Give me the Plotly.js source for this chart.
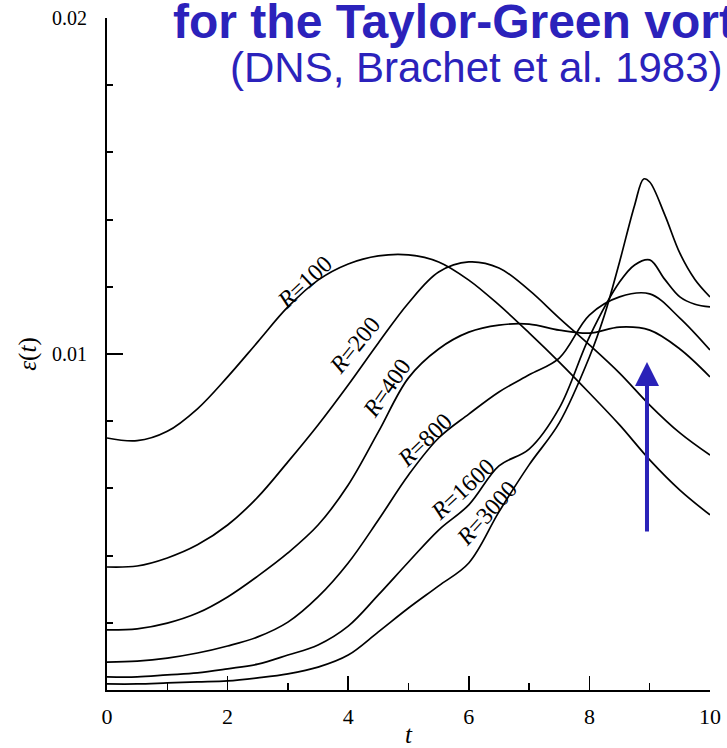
<!DOCTYPE html>
<html>
<head>
<meta charset="utf-8">
<script src="https://cdn.plot.ly/plotly-3.0.1.min.js"></script>
<style>html,body{margin:0;padding:0;background:#fff;}#chart{width:727px;height:748px;}</style>
</head>
<body>
<div id="chart"></div>
<script>
// time grid (shared by the four lower-Reynolds curves)
const tCoarse = [0,0.5,1,1.5,2,2.5,3,3.5,4,4.5,5,5.5,6,6.5,7,7.5,8,8.5,9,9.5,10];
const epsR100 = [0.00750,0.00742,0.00770,0.00837,0.00932,0.01036,0.01140,0.01220,0.01268,0.01292,0.01295,0.01274,0.01220,0.01146,0.01063,0.00976,0.00884,0.00789,0.00685,0.00595,0.00521];
const epsR200 = [0.00366,0.00369,0.00393,0.00432,0.00491,0.00574,0.00679,0.00789,0.00908,0.01033,0.01152,0.01244,0.01274,0.01256,0.01190,0.01107,0.01027,0.00943,0.00848,0.00765,0.00699];
const epsR400 = [0.00179,0.00182,0.00199,0.00229,0.00277,0.00339,0.00408,0.00491,0.00610,0.00768,0.00929,0.01015,0.01065,0.01086,0.01089,0.01071,0.01062,0.01080,0.01071,0.01015,0.00932];
const epsR800 = [0.00083,0.00086,0.00095,0.00110,0.00131,0.00158,0.00202,0.00277,0.00378,0.00506,0.00640,0.00750,0.00821,0.00887,0.00938,0.00988,0.01116,0.01170,0.01179,0.01107,0.01012];
const tR1600 = [0,0.5,1,1.5,2,2.5,3,3.5,4,4.5,5,5.5,6,6.5,7,7.5,8,8.5,8.75,9,9.25,9.5,9.75,10];
const epsR1600 = [0.00039,0.00039,0.00045,0.00051,0.00063,0.00077,0.00104,0.00134,0.00190,0.00283,0.00381,0.00476,0.00551,0.00667,0.00717,0.00839,0.01051,0.01214,0.01265,0.01280,0.01222,0.01170,0.01148,0.01140];
const tR3000 = [0,0.5,1,1.5,2,2.5,3,3.5,4,4.5,5,5.5,6,6.5,7,7.5,8,8.25,8.5,8.75,8.9,9,9.25,9.5,9.75,10];
const epsR3000 = [0.00018,0.00018,0.00021,0.00024,0.00027,0.00036,0.00048,0.00068,0.00104,0.00173,0.00244,0.00310,0.00378,0.00530,0.00670,0.00795,0.00991,0.01116,0.01274,0.01443,0.01521,0.01512,0.01414,0.01300,0.01222,0.01170];

const seriesNames = ['R=100','R=200','R=400','R=800','R=1600','R=3000'];
const labelTexts = ['<i>R</i>=100','<i>R</i>=200','<i>R</i>=400','<i>R</i>=800','<i>R</i>=1600','<i>R</i>=3000'];
const xTickVals = [0,2,4,6,8,10];
const yTickVals = [0,0.01,0.02];
const yTickText = ['','0.01','0.02'];

const seriesX = [tCoarse,tCoarse,tCoarse,tCoarse,tR1600,tR3000];
const seriesY = [epsR100,epsR200,epsR400,epsR800,epsR1600,epsR3000];

const traces = seriesNames.map((n,i)=>({
  x: seriesX[i], y: seriesY[i], name: n, type:'scatter', mode:'lines',
  line:{color:'#000', width:1.7, shape:'spline', smoothing:1},
  hoverinfo:'skip'
}));

// label placement (t, eps, angle)
const labelPlace = [
  [3.28,0.01214,-43],
  [4.11,0.01027,-51],
  [4.64,0.00899,-55],
  [5.27,0.00744,-44],
  [5.90,0.00598,-43],
  [6.30,0.00527,-48]
];
const serif = 'Liberation Serif, Times New Roman, serif';
const blue = '#2b22bb';

const annotations = labelTexts.map((s,i)=>({
  x: labelPlace[i][0], y: labelPlace[i][1], xref:'x', yref:'y',
  text: s, showarrow:false, textangle: labelPlace[i][2],
  font:{family:serif, size:24, color:'#000'}
}));

annotations.push({
  xref:'paper', yref:'paper', x:0.106, y:0.995, xanchor:'left', yanchor:'middle',
  text:'<b>for the Taylor-Green vortex</b>', showarrow:false,
  font:{family:'Liberation Sans, Arial, sans-serif', size:48, color:blue}
});
annotations.push({
  xref:'paper', yref:'paper', x:0.201, y:0.926, xanchor:'left', yanchor:'middle',
  text:'(DNS, Brachet et al. 1983)', showarrow:false,
  font:{family:'Liberation Sans, Arial, sans-serif', size:42, color:blue}
});
// arrow
annotations.push({
  x: 8.955, y: 0.00976, xref:'x', yref:'y', ax:0, ay:171, axref:'pixel', ayref:'pixel',
  text:'', showarrow:true, arrowhead:2, arrowsize:1.2, arrowwidth:4, arrowcolor:'#2a22b8', standoff:0
});

const layout = {
  width:727, height:748,
  margin:{l:107, r:17, t:18, b:58, pad:0},
  paper_bgcolor:'#fff', plot_bgcolor:'#fff',
  showlegend:false,
  xaxis:{
    range:[0,10], tickvals:xTickVals, showgrid:false, zeroline:false,
    showline:true, linecolor:'#000', linewidth:2,
    ticks:'inside', ticklen:14, tickwidth:1.5, tickcolor:'#000',
    minor:{dtick:1, tick0:0, ticks:'inside', ticklen:7, tickwidth:1.5, tickcolor:'#000', showgrid:false},
    tickfont:{family:serif, size:22, color:'#000'},
    ticklabelstandoff:6,
    title:{text:'<i>t</i>', font:{family:serif, size:25, color:'#000'}, standoff:0}
  },
  yaxis:{
    range:[0,0.02], tickvals:yTickVals, ticktext:yTickText, showgrid:false, zeroline:false,
    showline:true, linecolor:'#000', linewidth:2,
    ticks:'inside', ticklen:16, tickwidth:2, tickcolor:'#000',
    minor:{dtick:0.002, tick0:0, ticks:'inside', ticklen:6, tickwidth:2, tickcolor:'#000', showgrid:false},
    tickfont:{family:serif, size:20, color:'#000'},
    ticklabelstandoff:14,
    title:{text:'<i>ε</i>(<i>t</i>)', font:{family:serif, size:25, color:'#000'}, standoff:8}
  },
  annotations: annotations
};

Plotly.newPlot('chart', traces, layout, {displayModeBar:false, staticPlot:true});
</script>
</body>
</html>
